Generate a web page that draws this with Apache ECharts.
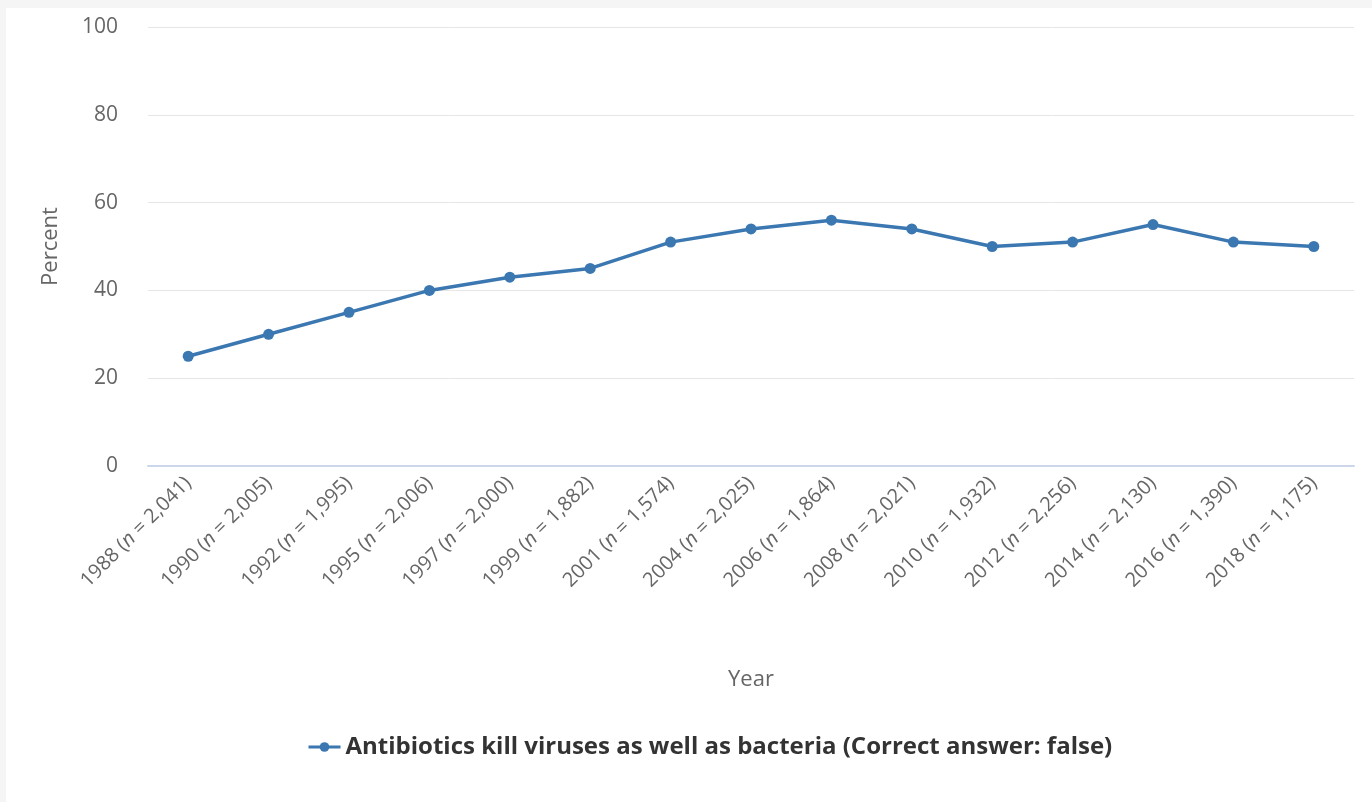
<!DOCTYPE html>
<html>
<head>
<meta charset="utf-8">
<script src="https://cdn.jsdelivr.net/npm/echarts@6/dist/echarts.min.js"></script>
<style>
  html, body { margin: 0; padding: 0; background: #f5f5f5; }
  #card { position: absolute; left: 6px; top: 8px; right: 0; bottom: 0; background: #fff; }
  #chart { position: absolute; left: 0; top: 0; width: 1372px; height: 802px; }
</style>
</head>
<body>
<div id="card"></div>
<div id="chart"></div>
<script>
// survey years and sample sizes
var years = ['1988', '1990', '1992', '1995', '1997', '1999', '2001', '2004', '2006', '2008', '2010', '2012', '2014', '2016', '2018'];
var sampleSizes = ['2,041', '2,005', '1,995', '2,006', '2,000', '1,882', '1,574', '2,025', '1,864', '2,021', '1,932', '2,256', '2,130', '1,390', '1,175'];
// percent answering wrongly
var percentValues = [25, 30, 35, 40, 43, 45, 51, 54, 56, 54, 50, 51, 55, 51, 50];
var yTicks = [0, 20, 40, 60, 80, 100];
var seriesName = 'Antibiotics kill viruses as well as bacteria (Correct answer: false)';

var myChart = echarts.init(document.getElementById('chart'));
var fontFam = '"Open Sans", sans-serif';

var option = {
  backgroundColor: 'transparent',
  textStyle: { fontFamily: fontFam },
  grid: { left: 148, right: 18, top: 27, bottom: 336 },
  legend: {
    bottom: 38,
    left: 302,
    data: [seriesName],
    itemWidth: 32,
    itemHeight: 12,
    itemGap: 10,
    lineStyle: { width: 3 },
    textStyle: { color: '#333', fontSize: 24, fontWeight: 'bold', fontFamily: fontFam }
  },
  xAxis: {
    type: 'category',
    data: years,
    boundaryGap: true,
    name: 'Year',
    nameLocation: 'middle',
    nameGap: 203,
    nameTextStyle: { color: '#666', fontSize: 22, fontFamily: fontFam },
    axisLine: { lineStyle: { color: '#ccd6eb', width: 2 } },
    axisTick: { alignWithLabel: true, length: 12, lineStyle: { color: '#ccd6eb', width: 2 } },
    axisLabel: {
      rotate: 45,
      margin: 14,
      interval: 0,
      formatter: function (v, i) {
        return '{a|' + v + ' (}{i|n}{a| = ' + sampleSizes[i] + ')}';
      },
      rich: {
        a: { color: '#666', fontSize: 20, fontFamily: fontFam },
        i: { color: '#666', fontSize: 20, fontStyle: 'italic', fontFamily: fontFam }
      }
    }
  },
  yAxis: {
    type: 'value',
    min: yTicks[0],
    max: yTicks[yTicks.length - 1],
    interval: yTicks[1] - yTicks[0],
    name: 'Percent',
    nameLocation: 'middle',
    nameGap: 86,
    nameRotate: 90,
    nameTextStyle: { color: '#666', fontSize: 22, fontFamily: fontFam },
    axisLine: { show: false },
    axisTick: { show: false },
    axisLabel: { color: '#666', fontSize: 21, margin: 30, fontFamily: fontFam },
    splitLine: { lineStyle: { color: '#e6e6e6', width: 1 } }
  },
  series: [{
    name: seriesName,
    type: 'line',
    data: percentValues,
    symbol: 'circle',
    symbolSize: 11,
    color: '#3b77b1',
    lineStyle: { width: 3.5, color: '#3b77b1' },
    itemStyle: { color: '#3b77b1' },
    animation: false
  }]
};

myChart.setOption(option);
</script>
</body>
</html>
